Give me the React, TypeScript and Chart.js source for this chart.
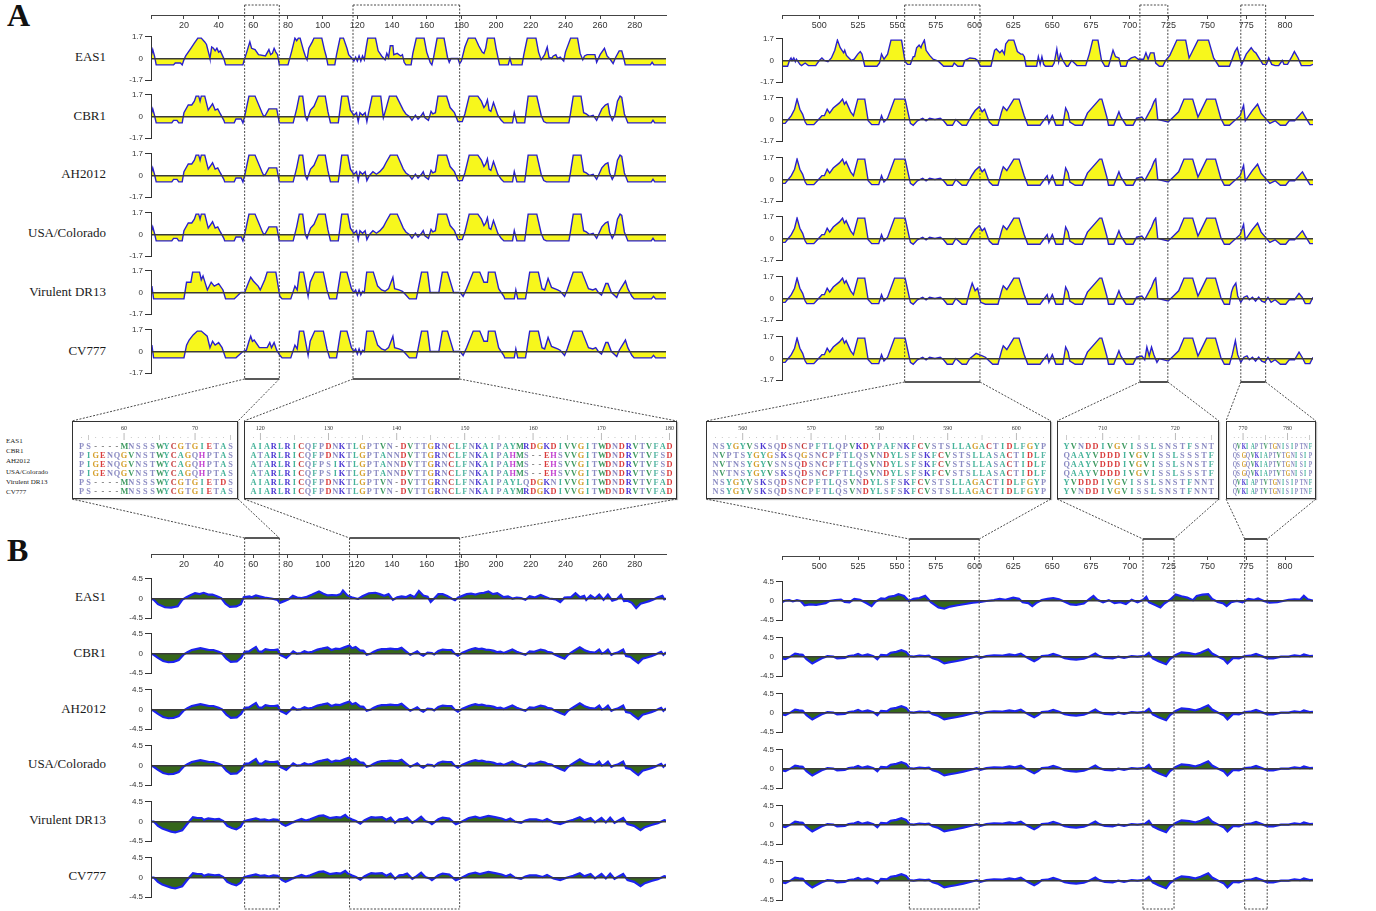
import React, { useEffect, useRef, useState } from 'react';
import { Chart, registerables } from 'chart.js';

Chart.register(...registerables);
Chart.defaults.font.family = 'Liberation Sans';

type Pt = [number, number];

// ---------------- data ----------------
const STRAINS = ['EAS1', 'CBR1', 'AH2012', 'USA/Colorado', 'Virulent DR13', 'CV777'];

const LEFT_RANGE: Pt = [1, 298];
const RIGHT_RANGE: Pt = [476, 818];
const LEFT_TICKS = [20, 40, 60, 80, 100, 120, 140, 160, 180, 200, 220, 240, 260, 280];
const RIGHT_TICKS = [500, 525, 550, 575, 600, 625, 650, 675, 700, 725, 750, 775, 800];
const ANTIGEN_LIMIT = 1.7;
const HYDRO_LIMIT = 4.5;

const LEFT_A_REGIONS: Pt[] = [[55, 75], [117.5, 179]];
const LEFT_B_REGIONS: Pt[] = [[55, 75], [115.5, 179]];
const RIGHT_A_REGIONS: Pt[] = [[555, 603.5], [706.5, 724.5], [771.5, 787.5]];
const RIGHT_B_REGIONS: Pt[] = [[558, 603], [708.5, 728.5], [774, 788.5]];

// Antigenicity, residues 1-298
const A_L_EAS1: Pt[] = [[1,0.1],[2,0.7],[3,0.2],[4,-0.5],[14,-0.5],[15,-0.35],[18,-0.35],[19,-0.5],[20,-0.1],[21,0.2],[24,0.8],[26,1.2],[28,1.6],[30,1.6],[32,1.3],[33,1.1],[34.5,0.3],[35,0],[36,0.9],[37,0.8],[38,0.6],[39,0.8],[40,0.5],[41,0.6],[43,0],[44,-0.5],[54,-0.5],[55,0],[56,0.4],[58,1.3],[59,0.8],[61,0.7],[63,0.3],[67,0.2],[69,0.7],[70,0.3],[71,0.4],[72,0.8],[73,0.5],[74,0.3],[75,-0.5],[80,-0.5],[82,0.5],[84,1.6],[85,1.4],[86,1.6],[87,1.6],[89,0.6],[90,0.2],[91,-0.1],[92,0.8],[94,1.3],[95,1.6],[99.5,1.6],[101,0.7],[102,0.2],[103,-0.5],[107,-0.5],[108,0.3],[110,1.6],[112,1.6],[114,0.8],[115,0.3],[117,0],[118,-0.2],[119,0.1],[120,-0.2],[121,0.2],[122,-0.2],[123,0.2],[124,-0.1],[125,0.8],[126,1.6],[130.5,1.6],[132,0.6],[133,0.4],[134,0.2],[136,-0.1],[137,0.4],[138,0.1],[139,1.0],[140.5,1.0],[141,0.3],[143,0.4],[145,0.2],[146,0.3],[147,-0.3],[148,-0.5],[151,-0.5],[152,0.4],[154,1.6],[158.5,1.6],[160,0.5],[162,-0.3],[163,-0.5],[164,0.1],[166,1.6],[170,1.6],[172,0.1],[173,-0.3],[174,0],[178,0],[179,-0.4],[180,-0.2],[182,0.9],[184,1.6],[188,1.6],[190,1.0],[192,0.5],[193,0.4],[194,0.8],[195,1.6],[199,1.6],[200,0.8],[202,-0.5],[207,-0.5],[208,0],[209,-0.5],[215,-0.5],[216,0.3],[218,1.6],[223,1.6],[224.5,0.5],[226,-0.1],[228,0.3],[229.5,0.9],[230.5,0.1],[232,0],[233,0.2],[234.5,0.3],[235.5,0],[237,0.1],[239,-0.2],[240,0.5],[243,1.6],[247,1.6],[248.5,0.4],[250,-0.1],[251,0.2],[252.5,0.3],[257,0.3],[258,-0.3],[260,0.3],[262.5,0.8],[264,0.2],[266,-0.1],[267.5,-0.4],[269,0.1],[271,0.6],[272.5,0.6],[273.5,0.1],[274.5,-0.5],[289,-0.5],[290,-0.3],[291,-0.5],[298,-0.5]];

const A_L_CBR1: Pt[] = [[1,0.1],[2,0.6],[3,0.1],[4,-0.5],[13,-0.5],[14,-0.3],[16,-0.3],[17,-0.5],[19,-0.5],[20,0.3],[22.5,0.9],[24.5,0.9],[26,1.2],[27,1.6],[28.5,1.6],[29.3,1.2],[30,1.6],[32,1.6],[34,0.5],[36.5,1.0],[38,0.5],[39.5,0.6],[41,0.2],[43,-0.3],[43.5,-0.5],[49,-0.5],[50,-0.2],[53,-0.2],[54,-0.5],[55,0],[57.5,1.6],[61,1.6],[65,0.3],[66,0],[67,0.1],[69,0.6],[73.5,0.6],[75,-0.5],[83,-0.5],[85,0.6],[86.5,1.6],[88.5,1.6],[90,0],[91,-0.3],[93,0.5],[95,0.8],[97.5,1.6],[101.5,1.6],[103,0.4],[104.5,-0.5],[109,-0.5],[111,1.6],[114.5,1.6],[116,0.5],[118,0.1],[119.5,0.3],[120.5,-0.4],[121.5,0.3],[123,0.1],[124.5,0.3],[125.5,-0.4],[126.5,0.3],[128.5,1.6],[133.5,1.6],[135,-0.1],[136.5,0.6],[138.5,1.6],[142.5,1.6],[146.5,0.5],[148,0.2],[150,0],[151.5,-0.3],[153.5,0.1],[155,-0.2],[157,0.1],[158,0.3],[159,-0.1],[161,-0.3],[162.5,0.4],[163.5,0.2],[165,0.3],[166.5,1.6],[171.5,1.6],[173.5,0.7],[176,0.3],[178,-0.4],[180.5,-0.4],[182,0.2],[184.5,1.6],[189.5,1.6],[191.5,1.2],[193,0.7],[194,0.9],[195,1.3],[196,0.5],[197,0.4],[198.5,1.1],[199.5,0.7],[201,0.1],[203,-0.3],[204.5,-0.5],[209.5,-0.5],[210.5,0.3],[212,-0.5],[216.5,-0.5],[218.5,1.6],[223.5,1.6],[226,0.1],[227.5,-0.4],[229,-0.5],[242,-0.5],[243,0.3],[244.5,1.6],[249,1.6],[250.5,0.3],[252,0.2],[254,0],[256,0.1],[258,-0.3],[259,0],[261,0.6],[263,0.9],[264.5,1.0],[265.5,0.2],[267,-0.3],[268.5,0.1],[270,1.2],[271.5,1.6],[272.5,1.5],[274,0.2],[276,-0.5],[289.5,-0.5],[290.5,-0.3],[291.5,-0.5],[298,-0.5]];

const A_L_AH2012: Pt[] = [[1,0.1],[2,0.6],[3,0.1],[4,-0.5],[13,-0.5],[14,-0.3],[16,-0.3],[17,-0.5],[19,-0.5],[20,0.3],[22.5,0.9],[24.5,0.9],[26,1.2],[27,1.6],[28.5,1.6],[29.3,1.2],[30,1.6],[32,1.6],[34,0.5],[36.5,1.0],[38,0.5],[39.5,0.6],[41,0.2],[43,-0.3],[43.5,-0.5],[49,-0.5],[50,-0.2],[53,-0.2],[54,-0.5],[55,0],[57.5,1.6],[61,1.6],[65,0.3],[66,0],[67,0.1],[69,0.6],[73.5,0.6],[75,-0.5],[83,-0.5],[85,0.6],[86.5,1.6],[88.5,1.6],[90,0],[91,-0.3],[93,0.5],[95,0.8],[97.5,1.6],[101.5,1.6],[103,0.4],[104.5,-0.5],[109,-0.5],[111,1.6],[114.5,1.6],[116,0.5],[118,0.1],[119.5,0.3],[120.5,-0.4],[121.5,0.3],[123,0.1],[124.5,0.3],[125.5,-0.4],[127,0],[129,0.3],[131,0.1],[133,0.3],[135,0.6],[136.5,1.0],[139,1.6],[143,1.6],[146.5,0.5],[148,0.2],[150,0],[151.5,-0.3],[153.5,0.1],[155,-0.2],[157,0.1],[158,0.3],[159,-0.1],[161,-0.3],[162.5,0.4],[163.5,0.2],[165,0.3],[166.5,1.6],[171.5,1.6],[173.5,0.7],[176,0.3],[178,-0.4],[180.5,-0.4],[182,0.2],[184.5,1.6],[189.5,1.6],[191.5,1.2],[193,0.7],[194,0.9],[195,1.3],[196,0.5],[197,0.4],[198.5,1.1],[199.5,0.7],[201,0.1],[203,-0.3],[204.5,-0.5],[209.5,-0.5],[210.5,0.3],[212,-0.5],[216.5,-0.5],[218.5,1.6],[223.5,1.6],[226,0.1],[227.5,-0.4],[229,-0.5],[242,-0.5],[243,0.3],[244.5,1.6],[249,1.6],[250.5,0.3],[252,0.2],[254,0],[256,0.1],[258,-0.3],[259,0],[261,0.6],[263,0.9],[264.5,1.0],[265.5,0.2],[267,-0.3],[268.5,0.1],[270,1.2],[271.5,1.6],[272.5,1.5],[274,0.2],[276,-0.5],[289.5,-0.5],[290.5,-0.3],[291.5,-0.5],[298,-0.5]];

const A_L_DR13: Pt[] = [[1,0.1],[1.5,0.5],[2.5,-0.5],[20,-0.5],[21.5,0.8],[24,0.8],[25,1.6],[29,1.6],[30,1.0],[31,1.3],[33.5,0.2],[35.7,0.8],[37.5,0.5],[40,0.7],[42.5,0.2],[44,-0.5],[49,-0.5],[52.8,0],[55,0],[57,0.7],[58.5,1.2],[60,0.9],[62.8,0.5],[64,0.2],[66.6,1.0],[68,1.6],[73,1.6],[75.3,-0.3],[76.6,-0.5],[81.6,-0.5],[84,0.5],[85.3,0.2],[86.6,1.6],[89,1.6],[91.6,-0.3],[92.8,0.8],[95.4,1.6],[100.4,1.6],[102.5,0.2],[104,-0.5],[108,-0.5],[110.4,1.6],[114,1.6],[116.6,0.3],[118,0],[119,0.2],[120,-0.2],[121,0.2],[122,-0.2],[123,0.1],[124,0],[125.4,1.6],[129.2,1.6],[131.7,0.5],[134,0.2],[136,0.1],[138,0.3],[140.5,1.2],[141.5,0.3],[144,0.2],[146,0.1],[148,-0.2],[150,-0.5],[154,-0.5],[157,1.6],[160.5,1.6],[162,0],[167,0],[169,1.6],[172,1.6],[175.5,0],[179.3,0],[181,-0.3],[183,0.3],[186.8,1.6],[190.6,1.6],[193,0.8],[195,0.8],[195.6,1.6],[199.4,1.6],[201.5,0.3],[204.4,-0.3],[205,-0.5],[210.5,-0.5],[211.4,0.2],[212.5,-0.5],[217,-0.5],[219.4,1.6],[224.4,1.6],[226.5,0.3],[228,0.2],[230,1.1],[232,0.4],[235.5,0.2],[237,0.1],[239.5,-0.3],[241,0.2],[244.5,1.6],[249.5,1.6],[253.3,0.3],[255.8,0.2],[257.5,0.3],[259,0],[260.8,-0.2],[263.3,0.7],[264.5,0.7],[266.5,0],[269.6,-0.4],[271,0.1],[274.6,0.9],[276,0.3],[278.3,-0.3],[279.6,-0.5],[289.6,-0.5],[290.8,-0.3],[292,-0.5],[298,-0.5]];

const A_L_CV777: Pt[] = [[1,0.1],[1.5,0.5],[2.5,-0.5],[20,-0.5],[21.5,0.5],[23,0.9],[25.3,1.3],[27.7,1.6],[30,1.6],[33.4,1.2],[35,0.3],[36.5,0.8],[38,0.5],[40,0.7],[42,0.3],[44,-0.5],[50,-0.5],[54,0],[56,0.1],[57.5,0.8],[58.5,1.2],[59.5,0.8],[60.5,0.9],[63.5,0.3],[68,0.3],[69.5,0.7],[70.5,0.3],[72,0.7],[73.5,0.1],[75.3,-0.3],[76.6,-0.5],[81.6,-0.5],[84,0.5],[85.3,0.2],[86.6,1.6],[89,1.6],[91.6,-0.3],[92.8,0.8],[95.4,1.6],[100.4,1.6],[102.5,0.2],[104,-0.5],[108,-0.5],[110.4,1.6],[114,1.6],[116.6,0.3],[118,0],[119,0.2],[120,-0.2],[121,0.2],[122,-0.2],[123,0.1],[124,0],[125.4,1.6],[129.2,1.6],[131.7,0.5],[134,0.2],[136,0.1],[138,0.3],[140.5,1.2],[141.5,0.3],[144,0.2],[146,0.1],[148,-0.2],[150,-0.5],[154,-0.5],[157,1.6],[160.5,1.6],[162,0],[167,0],[169,1.6],[172,1.6],[175.5,0],[179.3,0],[181,-0.3],[183,0.3],[186.8,1.6],[190.6,1.6],[193,0.8],[195,0.8],[195.6,1.6],[199.4,1.6],[201.5,0.3],[204.4,-0.3],[205,-0.5],[210.5,-0.5],[211.4,0.2],[212.5,-0.5],[217,-0.5],[219.4,1.6],[224.4,1.6],[226.5,0.3],[228,0.2],[230,1.1],[232,0.4],[235.5,0.2],[237,0.1],[239.5,-0.3],[241,0.2],[244.5,1.6],[249.5,1.6],[253.3,0.3],[255.8,0.2],[257.5,0.3],[259,0],[260.8,-0.2],[263.3,0.7],[264.5,0.7],[266.5,0],[269.6,-0.4],[271,0.1],[274.6,0.9],[276,0.3],[278.3,-0.3],[279.6,-0.5],[289.6,-0.5],[290.8,-0.3],[292,-0.5],[298,-0.5]];

// Antigenicity, residues 476-818
const A_R_EAS1: Pt[] = [[476,-0.45],[479.6,-0.45],[480.8,0],[481.8,0.2],[482.5,0],[483.6,0.2],[484.6,-0.1],[485.3,0.1],[487.5,-0.3],[488.6,-0.4],[490.9,-0.2],[493,-0.4],[497.7,-0.4],[500,0],[501.7,0.2],[503.3,0],[505.6,-0.1],[507.8,0.2],[510,0.8],[511.7,1.6],[513.5,1.0],[515.7,0.6],[516.4,0.8],[517.5,0.4],[519.1,0.2],[520.7,0],[522.5,0.1],[524.8,0.5],[526.4,0.7],[527.5,0.5],[529.3,-0.45],[537.2,-0.45],[538.8,-0.2],[540.1,0.5],[541.7,0.1],[544,0.5],[546.2,1.6],[553,1.6],[555.3,-0.1],[556.8,-0.3],[558.7,-0.3],[560.5,0.3],[561.4,0.3],[562.7,1.0],[564.3,1.2],[565.5,1.0],[566,1.2],[567.7,1.6],[568.8,0.8],[571.1,0.4],[573.3,0.1],[576.7,-0.05],[580.1,-0.45],[585.8,-0.45],[586.9,-0.2],[589.2,-0.45],[592.5,-0.45],[593.7,0],[597,0.2],[600.4,0.15],[602,0],[603.8,-0.45],[610.6,-0.45],[612.9,0.8],[614,0.9],[616.3,0.6],[617.8,0.8],[619.2,0.5],[620.1,1.3],[621.9,1.6],[625.3,1.6],[627.6,0.7],[629.8,0.5],[631,0.5],[632.1,0.3],[633.2,-0.45],[640,-0.45],[641.1,0.3],[642.3,-0.3],[643.4,0.3],[644.5,-0.3],[645.6,-0.45],[650.1,-0.45],[651.3,-0.2],[653,0.9],[654.2,-0.1],[655.3,0.5],[656.9,0],[659.2,-0.45],[660.3,-0.45],[662.6,0],[666,-0.4],[671.6,-0.4],[673.9,0.5],[676.1,1.6],[679.5,1.6],[681.8,0],[684,-0.45],[686.3,-0.45],[689.2,0.8],[690.8,0.3],[693,0.2],[694.2,-0.45],[697.6,-0.45],[698.8,0],[701,0.2],[703.3,0.3],[705.5,0.1],[708.9,0.1],[710.4,0.6],[711.8,0.1],[713.3,0.6],[715.6,0.6],[716.7,-0.2],[719,-0.45],[721.3,-0.45],[723.1,0],[725.8,0.4],[730.3,1.6],[736,1.6],[738.2,0.2],[743.9,1.6],[750.7,1.6],[754,0.2],[757.4,-0.45],[764.2,-0.45],[766.5,0.3],[767.7,0.7],[769.2,1.0],[772.1,-0.3],[775,0.5],[778.2,1.0],[780,0.7],[781.2,0.6],[785.7,-0.3],[788,-0.3],[789.5,0.2],[791.4,-0.3],[793.6,-0.4],[795.9,-0.4],[798.2,0],[799.3,-0.3],[801.6,-0.3],[803.9,0.2],[806,0.7],[808.4,0.2],[810.5,-0.4],[816.2,-0.4],[818,-0.3]];

const A_R_CBR1: Pt[] = [[476,-0.3],[478,-0.3],[480,0],[482,0.3],[484.1,0.8],[485.7,1.6],[487.5,0.8],[489.3,0.4],[490.9,-0.2],[492,-0.4],[496.5,-0.4],[498.8,-0.1],[501.7,0.3],[503.3,0.3],[505.1,0.8],[506.7,0.5],[509,0.9],[513,1.3],[515,1.6],[516.2,1.2],[517.3,1.4],[520.2,0.6],[522,0.3],[524.8,1.6],[529.3,1.6],[531.5,-0.1],[533.8,-0.4],[538.3,-0.4],[540.1,0.3],[541.7,-0.2],[544,0.1],[548.5,1.6],[555.3,1.6],[558.7,-0.3],[560.5,-0.45],[563.2,-0.1],[566.6,0.1],[568.8,-0.1],[571.1,0.1],[574.5,0],[577.9,0.1],[580.1,-0.1],[582.4,-0.45],[585.8,-0.45],[588,0],[592,-0.45],[594.8,-0.45],[598.2,0.3],[600.4,0.7],[603.1,1.0],[604.9,0.6],[606.5,0.8],[609.5,-0.2],[611.7,-0.45],[615.1,-0.45],[617.4,0.6],[618.5,1.0],[620.8,0.7],[625.3,1.6],[628.7,1.6],[632,0.3],[634.3,-0.45],[642.2,-0.45],[646.8,0.3],[647.9,-0.3],[650.1,0.3],[652.4,-0.45],[656.9,-0.45],[658.7,0.9],[660.3,0.5],[661.4,-0.2],[664.8,-0.45],[669.4,-0.45],[672.7,0.5],[680.6,1.6],[682,1.6],[685.2,0.2],[686.3,-0.45],[689.7,-0.45],[693,0.6],[694.2,0.2],[697.6,-0.45],[702.1,-0.45],[704.4,0.1],[707.8,0.2],[709.6,-0.1],[711.8,0.4],[714,0.9],[715.6,1.4],[716.7,1.6],[718,0],[724.7,-0.2],[728.1,0.2],[731.5,0.6],[734.9,1.6],[740.5,1.6],[743.9,0.2],[749.5,1.6],[755.2,1.6],[758.6,0.1],[760.9,-0.45],[764.2,-0.45],[766.5,-0.2],[771,0.3],[773.3,1.1],[774.4,-0.1],[778.9,0.7],[782.3,1.2],[784.6,0.5],[790.2,-0.3],[793.6,-0.1],[797,-0.45],[800.4,-0.45],[802.7,-0.1],[806.1,-0.1],[811.2,0.6],[813,0.2],[816,-0.4],[818,-0.4]];

const A_R_DR13: Pt[] = [[476,-0.3],[478,-0.3],[480,0],[482,0.3],[484.1,0.8],[485.7,1.6],[487.5,0.8],[489.3,0.4],[490.9,-0.2],[492,-0.4],[496.5,-0.4],[498.8,-0.1],[501.7,0.3],[503.3,0.3],[505.1,0.8],[506.7,0.5],[509,0.9],[513,1.3],[515,1.6],[516.2,1.2],[517.3,1.4],[520.2,0.6],[522,0.3],[524.8,1.6],[529.3,1.6],[531.5,-0.1],[533.8,-0.4],[538.3,-0.4],[540.1,0.3],[541.7,-0.2],[544,0.1],[548.5,1.6],[555.3,1.6],[558.7,-0.3],[560.5,-0.45],[563.2,-0.1],[566.6,0.1],[568.8,-0.1],[571.1,0.1],[574.5,0],[577.9,0.1],[580.1,-0.1],[582.4,-0.45],[585.8,-0.45],[588,0],[592,-0.45],[594.8,-0.45],[596.5,0.4],[598.5,1.2],[600.4,0.6],[602,0.8],[604,-0.3],[607,-0.45],[611.7,-0.45],[615.1,-0.45],[617.4,0.6],[618.5,1.0],[620.8,0.7],[625.3,1.6],[628.7,1.6],[632,0.3],[634.3,-0.45],[642.2,-0.45],[646.8,0.3],[647.9,-0.3],[650.1,0.3],[652.4,-0.45],[656.9,-0.45],[658.7,0.9],[660.3,0.5],[661.4,-0.2],[664.8,-0.45],[669.4,-0.45],[672.7,0.5],[680.6,1.6],[682,1.6],[685.2,0.2],[686.3,-0.45],[689.7,-0.45],[693,0.6],[694.2,0.2],[697.6,-0.45],[702.1,-0.45],[704.4,0.1],[707.8,0.2],[709.6,-0.1],[711.8,0.4],[714,0.9],[715.6,1.4],[716.7,1.6],[718,0],[724.7,-0.2],[728.1,0.2],[731.5,0.6],[734.9,1.6],[740.5,1.6],[743.9,0.2],[749.5,1.6],[755.2,1.6],[758.6,0.1],[760.9,-0.45],[764.2,-0.45],[765.5,0.5],[766.6,0.9],[768.3,1.2],[769.5,0.2],[771.5,-0.3],[773.5,0.1],[775.5,0.2],[777,-0.1],[779,0.1],[781,-0.2],[783,0.1],[785,-0.2],[787,-0.3],[789,0.1],[791,-0.3],[793.6,-0.1],[797,-0.45],[800.4,-0.45],[802.7,-0.1],[806.1,-0.1],[809,0.4],[811,0.1],[813,-0.4],[816,-0.4],[818,0.1]];

const A_R_CV777: Pt[] = [[476,-0.3],[478,-0.3],[480,0],[482,0.3],[484.1,0.8],[485.7,1.6],[487.5,0.8],[489.3,0.4],[490.9,-0.2],[492,-0.4],[496.5,-0.4],[498.8,-0.1],[501.7,0.3],[503.3,0.3],[505.1,0.8],[506.7,0.5],[509,0.9],[513,1.3],[515,1.6],[516.2,1.2],[517.3,1.4],[520.2,0.6],[522,0.3],[524.8,1.6],[529.3,1.6],[531.5,-0.1],[533.8,-0.4],[538.3,-0.4],[540.1,0.3],[541.7,-0.2],[544,0.1],[548.5,1.6],[555.3,1.6],[558.7,-0.3],[560.5,-0.45],[563.2,-0.1],[566.6,0.1],[568.8,-0.1],[571.1,0.1],[574.5,0],[577.9,0.1],[580.1,-0.1],[582.4,-0.45],[585.8,-0.45],[588,0],[592,-0.45],[594.8,-0.45],[597,0],[599,0.2],[601,0.4],[603,0.3],[605,0.2],[607,0.1],[609.5,-0.2],[611.7,-0.45],[615.1,-0.45],[617.4,0.6],[618.5,1.0],[620.8,0.7],[625.3,1.6],[628.7,1.6],[632,0.3],[634.3,-0.45],[642.2,-0.45],[646.8,0.3],[647.9,-0.3],[650.1,0.3],[652.4,-0.45],[656.9,-0.45],[658.7,0.9],[660.3,0.5],[661.4,-0.2],[664.8,-0.45],[669.4,-0.45],[672.7,0.5],[680.6,1.6],[682,1.6],[685.2,0.2],[686.3,-0.45],[689.7,-0.45],[693,0.6],[694.2,0.2],[697.6,-0.45],[702.1,-0.45],[704.4,0.1],[707.8,0.2],[709.6,-0.1],[711,0.9],[712.5,0.2],[714,0.9],[715.5,0.3],[717.5,-0.3],[719,0],[724.7,-0.2],[728.1,0.2],[731.5,0.6],[734.9,1.6],[740.5,1.6],[743.9,0.2],[749.5,1.6],[755.2,1.6],[758.6,0.1],[760.9,-0.45],[764.2,-0.45],[766,0.3],[768,1.4],[769.5,0.3],[771.5,-0.3],[773.5,0.1],[775.5,0.2],[777,-0.1],[779,0.1],[781,-0.2],[783,0.1],[785,-0.2],[787,-0.3],[789,0.1],[791,-0.3],[793.6,-0.1],[797,-0.45],[800.4,-0.45],[802.7,-0.1],[806.1,-0.1],[809,0.5],[811,0.1],[813,-0.4],[816,-0.4],[818,0.1]];

// Hydrophobicity, residues 1-298
const B_L_EAS1: Pt[] = [[1,0],[2.6,-0.3],[5,-1.3],[9,-2.0],[12.6,-2.1],[16.4,-1.8],[19,-0.3],[21.4,0.3],[24,0.8],[26.4,1.2],[29,1.0],[31.4,1.3],[34,0.9],[36.4,0.9],[39,0.5],[41.5,0.1],[44,-1.2],[46.5,-1.9],[50.2,-1.8],[52.8,-1.3],[54.5,0.3],[57.8,0.5],[59,0.3],[61.5,0.7],[63.5,0.5],[66.5,0.2],[70.3,0],[74,-0.3],[75.3,-1.0],[77.8,-0.6],[80.3,-0.2],[82.8,0.6],[85.3,0.2],[87.8,0.1],[90.3,0.3],[94,0.9],[97.9,1.6],[100.4,1.1],[102.9,0.7],[105.4,0.8],[107.9,0.7],[110.4,1.0],[111.7,1.8],[114.2,0.7],[116.7,0.3],[120.4,-0.1],[122.9,0.5],[126.7,1.2],[130.4,1.3],[132.9,1.0],[135.5,0.6],[138,1.0],[140.5,-0.3],[143,0.3],[145.5,0.5],[148,0.3],[150.5,0.8],[153,0.3],[155.5,1.7],[158,0.7],[160.5,0.4],[162.3,-0.8],[164.3,0],[166.7,1.0],[169.2,1.0],[171.8,0.6],[174.3,0],[176.3,-0.4],[178,0.2],[180.6,0.6],[183.1,1.0],[185.6,1.1],[188.1,0.9],[190.6,1.2],[193,1.3],[195.6,1.6],[198.2,1.0],[200.7,1.2],[204.4,0.3],[206.9,0.5],[209.4,0],[211.9,0.2],[214.4,0.1],[216.9,-0.3],[219.4,0.5],[222.4,0.2],[225.7,0.8],[228.2,0.4],[230.7,0],[234.4,-0.2],[237,-0.8],[239.5,0.2],[243.3,0.3],[245.8,1.2],[248.3,0.3],[250.8,0.6],[252,-0.3],[254.5,0.7],[257,0],[259.5,0.9],[262,-0.3],[264.5,0.9],[267,-0.5],[269.6,-0.2],[272,0.8],[273.8,-0.6],[275.8,-0.5],[278.3,-1.0],[280.8,-2.2],[283.3,-1.2],[285.8,-0.9],[288.3,-0.6],[290.8,-0.2],[293.3,0.3],[295.9,0.6],[297,-0.2],[298,0]];

const B_L_CBR1: Pt[] = [[1,0],[2.6,-0.3],[5,-1.0],[8,-1.7],[11,-2.0],[14,-1.9],[17,-1.5],[20,-0.2],[22,0.3],[24.5,0.8],[27,1.0],[29.5,1.2],[32,1.0],[34.5,0.8],[37,0.8],[40,0.4],[42,0],[44.5,-1.2],[47,-1.9],[50.5,-1.8],[53,-1.0],[55,0.4],[57.5,0.5],[59.5,1.0],[61.5,1.5],[63,0.5],[65,0.4],[67,1.0],[69.5,0.8],[72,0.8],[74,0.9],[75.5,-0.3],[77.5,-0.7],[79,-1.0],[81,-0.3],[83,0.5],[85,0],[87.5,0.1],[89.5,0.5],[91.5,0.2],[94,0.4],[97,0.9],[99.5,1.1],[102.8,1.4],[105,0.8],[107.5,1.1],[110,1.0],[112.5,1.4],[115.4,1.8],[117,1.2],[119,1.5],[121.5,0.7],[123.5,0.6],[125.4,-0.3],[127.8,0],[129.5,0.4],[131.7,0.8],[134,1.0],[136.7,1.0],[139,1.1],[141.5,1.0],[143.5,1.0],[145.5,1.3],[148,0.5],[150.5,-0.3],[153,0.2],[154.5,0.5],[156.5,-0.2],[158,-0.5],[160.5,0.2],[163,0.1],[164.3,-0.2],[166.7,0.6],[169.2,0.9],[171.8,0.8],[174.3,0.8],[176,0],[178,-0.5],[180.6,0.2],[184.3,0.8],[186,1.0],[188,1.2],[190,1.0],[191.8,1.1],[194,0.9],[196.8,0.8],[198.8,0.6],[200.7,0.3],[202.5,0.4],[204.4,0.1],[206.9,0.5],[209.4,0.9],[211.9,0.4],[213.2,0.2],[216.9,-0.3],[219.4,0.5],[222,0.4],[225.7,0.9],[228.2,0.7],[229.5,0.4],[232,0.2],[233.5,-0.2],[237,-0.8],[239.5,-1.2],[241.5,-0.3],[243.3,0.2],[245.8,0.8],[248.3,1.4],[250.8,0.8],[252,0.6],[254.5,0.3],[257,0.2],[259.5,0.9],[261,0],[262.5,0.2],[264.5,0.9],[266.5,-0.3],[268,0],[270,0.2],[273.3,0.9],[275,-0.6],[277.5,-0.8],[279,-1.3],[282,-2.2],[284.5,-1.2],[287,-0.9],[289.5,-0.6],[292,-0.2],[294,0.2],[295.2,0.4],[296.5,-0.3],[298,0.3]];

const B_L_DR13: Pt[] = [[1,0],[2.6,0],[5,-1.0],[7.5,-1.6],[12.6,-2.3],[15,-2.5],[19,-2.0],[21.4,-0.8],[23,0],[25.2,1.0],[27.7,0.8],[30.2,0.8],[31.5,0.4],[34,0.7],[37.8,0.5],[40.2,0.6],[42.7,0.1],[45,-1.0],[47.6,-1.5],[50.2,-1.8],[52.7,-1.2],[54.5,0],[56.5,0.3],[59,0.5],[61.5,0.7],[64,0.4],[66.5,0.5],[69,0.2],[71.5,0.5],[74,0.4],[76.6,-0.6],[78.6,-1.0],[80.3,-0.7],[82.8,-0.2],[85.3,0.2],[87.8,0.6],[90.3,0.2],[92.8,0.5],[97.9,1.3],[100.4,1.4],[104.1,0.8],[107.9,1.0],[110.4,0.9],[113,1.5],[114.2,1.0],[116.7,0.5],[119.2,0.1],[121.7,-0.5],[124.2,0.3],[126.2,0.7],[128,1.0],[130.4,0.9],[134.2,1.0],[136.7,0.4],[139.2,0.9],[141.7,-0.3],[144.2,0.5],[146.7,0.6],[148.7,0.9],[151.7,-0.3],[154.2,0.3],[156.8,1.1],[159.2,0.1],[161.7,-0.2],[163,-0.6],[166.7,0.5],[169.2,0.9],[173,0.7],[175.5,-0.2],[176.8,-0.6],[179.3,-0.2],[181.8,0.3],[184.3,0.8],[188,1.1],[190.6,0.8],[195.6,1.3],[199.4,1.0],[203.2,0.7],[205.7,0.3],[208.2,0.7],[210.7,0],[214.4,-0.3],[216.9,0.2],[219.4,0.5],[223.1,0.5],[226.9,0.1],[229.4,0.6],[233.1,-0.2],[237,-0.6],[239.5,-0.2],[244.5,0.4],[248.3,1.0],[250.8,0.3],[254.5,0.8],[257,-0.2],[260.8,0.8],[263.3,-0.2],[265.8,0.9],[268.3,-0.3],[273.3,0.8],[275.8,-0.6],[279.6,-1.0],[283.3,-2.0],[285.8,-1.3],[289.6,-0.8],[293.3,-0.4],[297,0.3],[298,0.2]];

// Hydrophobicity, residues 476-818
const B_R_EAS1: Pt[] = [[476,-0.3],[478,0.1],[480.7,0.2],[483,-0.1],[485.6,0.2],[488,0],[490.5,-1.0],[494,-0.8],[498,-0.9],[501.5,-0.7],[504.1,-0.5],[506.5,0],[510.3,0.2],[514,0.3],[516.4,-0.2],[519.4,-0.3],[522.6,0.5],[526.3,0.3],[530,-0.4],[533.7,-1.2],[536.1,-0.2],[539.8,0.6],[542.3,0.5],[544.8,1.0],[548.5,1.2],[551,1.6],[554.6,1.2],[557.8,0],[560.8,0.5],[564.5,0.7],[568.2,1.2],[570.1,0.5],[571.9,-0.3],[576.8,-1.5],[580.5,-1.8],[584.2,-1.3],[589.1,-1.0],[594.1,-0.7],[599,-0.4],[603.9,-0.2],[607.6,0],[612.5,0.2],[616.2,0.5],[619.9,0.3],[624.9,0.8],[628.6,0.5],[631,-0.3],[634.7,-0.5],[637.2,-1.2],[639.6,-0.5],[643.3,0.2],[647,0.5],[650.7,0.7],[654.4,0.4],[658.1,-0.2],[661.8,-0.8],[665.5,-0.9],[670.4,-0.6],[674.1,0.5],[676.6,1.2],[679.1,0.3],[682.8,-0.3],[686.5,0.2],[690.2,-0.5],[693.9,-0.3],[697.5,-0.7],[701.2,0.3],[705,-0.3],[708.6,0.3],[710.6,1.0],[712.3,-0.3],[716,-0.9],[719.7,-1.5],[722.2,-0.6],[725.9,0.3],[729.6,1.5],[733.3,1.1],[737,0.8],[740.7,0.2],[743.1,1.2],[746.8,1.5],[750.5,1.6],[753,0.5],[756.7,-0.2],[760.4,-0.6],[762.4,-1.2],[765.3,-0.3],[769,0],[772.6,-0.3],[776.4,0.5],[780.1,0.3],[782.6,0.6],[786.3,0],[790,-0.4],[795,-0.3],[798.6,0],[802.3,0.3],[806,0.4],[809.7,0.3],[812.1,1.2],[814.6,0.4],[818,0.1]];

const B_R_CBR1: Pt[] = [[476,-0.3],[478.2,-0.5],[481.9,0.2],[484.4,0.8],[486.9,0.6],[489.3,0.5],[491.8,-0.5],[494.3,-1.2],[495.5,-1.5],[498,-1.0],[501.6,-0.3],[505.3,0.2],[509,0.1],[511.5,-0.3],[516.4,-0.2],[518.9,0.2],[522.6,0.4],[525,0.7],[527.5,0.3],[531.2,0.6],[534.9,0.2],[537.4,-0.5],[539.8,0.5],[543.5,0.4],[546,1.0],[549.7,1.2],[552.9,1.6],[555.9,1.2],[558.3,0.2],[560.8,0.1],[564.5,0.3],[568.2,0.2],[570.6,0.3],[573.1,-0.3],[576.8,-0.7],[580.5,-1.5],[584.2,-1.2],[587.9,-1.0],[592.8,-0.6],[596.5,-0.3],[601.4,0.2],[603.9,-0.2],[607.6,0.2],[612.5,0.4],[617.5,0.3],[622.4,0.6],[626.1,0.4],[629.8,0.8],[632.3,0.2],[634.7,-0.3],[638.4,-1.0],[640.9,-0.5],[643.3,0.2],[647,0.3],[650.7,0.7],[654.4,0.3],[658.1,-0.3],[661.8,-0.5],[665.5,-0.6],[670.4,-0.4],[674.1,0.1],[677.8,0.8],[680.3,0.2],[684,-0.2],[689,-0.3],[692.6,0.1],[696.3,-0.2],[701.2,0.2],[704.9,0.1],[709.9,0.3],[712.3,1.0],[714.8,-0.3],[718.5,-1.0],[723.4,-1.7],[725.9,-0.5],[729.6,0.5],[733.3,1.1],[738.2,0.9],[741.9,0.6],[745.6,1.0],[750.5,1.8],[753,0.8],[756.7,0.1],[760.4,-0.5],[762.9,-1.5],[766.6,-0.2],[770.3,-0.3],[774,0.2],[777.7,0.3],[781.3,0.7],[785,0.2],[788.7,-0.3],[792.4,-0.3],[797.4,0.1],[802.3,0.1],[806,0.4],[809.7,0.2],[812.1,0.6],[815.8,0.2],[818,0.3]];

const A_LEFT_ROWS = [A_L_EAS1, A_L_CBR1, A_L_AH2012, A_L_AH2012, A_L_DR13, A_L_CV777];
const A_RIGHT_ROWS = [A_R_EAS1, A_R_CBR1, A_R_CBR1, A_R_CBR1, A_R_DR13, A_R_CV777];
const B_LEFT_ROWS = [B_L_EAS1, B_L_CBR1, B_L_CBR1, B_L_CBR1, B_L_DR13, B_L_DR13];
const B_RIGHT_ROWS = [B_R_EAS1, B_R_CBR1, B_R_CBR1, B_R_CBR1, B_R_CBR1, B_R_CBR1];

// alignment blocks (first column number + sequences per strain)
const ALN_STARTS = [54, 119, 556, 705, 768];
const ALN_54 = ['PS----MNSSSWYCGTGIETAS','PIGENQGVNSTWYCAGQHPTAS','PIGENQGVNSTWYCAGQHPTAS','PIGENQGVNSTWYCAGQHPTAS','PS----MNSSSWYCGTGIETDS','PS----MNSSSWYCGTGIETAS'];
const ALN_119 = ['AIARLRICQFPDNKTLGPTVN-DVTTGRNCLFNKAIPAYMRDGKDIVVGITWDNDRVTVFAD','ATARLRICQFPDNKTLGPTANNDVTTGRNCLFNKAIPAHMS--EHSVVGITWDNDRVTVFSD','ATARLRICQFPSIKTLGPTANNDVTTGRNCLFNKAIPAHMS--EHSVVGITWDNDRVTVFSD','ATARLRICQFPSIKTLGPTANNDVTTGRNCLFNKAIPAHMS--EHSVVGITWDNDRVTVFSD','AIARLRICQFPDNKTLGPTVN-DVTTGRNCLFNKAIPAYLQDGKNIVVGITWDNDRVTVFAD','AIARLRICQFPDNKTLGPTVN-DVTTGRNCLFNKAIPAYMRDGKDIVVGITWDNDRVTVFAD'];
const ALN_556 = ['NSYGYVSKSQDSNCPFTLQPVKDYPAFNKFCVSTSLLAGACTIDLFGYP','NVPTSYGYGSKSQGSNCPFTLQSVNDYLSFSKFCVSTSLLASACTIDLF','NVTNSYGYVSNSQDSNCPFTLQSVNDYLSFSKFCVSTSLLASACTIDLF','NVTNSYGYVSKSQDSNCPFTLQSVNDYLSFSKFCVSTSLLASACTIDLF','NSYGYVSKSQDSNCPFTLQSVNDYLSFSKFCVSTSLLAGACTIDLFGYP','NSYGYVSKSQDSNCPFTLQSVNDYLSFSKFCVSTSLLAGACTIDLFGYP'];
const ALN_705 = ['YVNDDIVGVISSLSNSTFSNT','QAAYVDDDIVGVISSLSSSTF','QAAYVDDDIVGVISSLSNSTF','QAAYVDDDIVGVISSLSSSTF','YVDDDIVGVISSLSNSTFNNT','YVNDDIVGVISSLSNSTFNNT'];
const ALN_768 = ['QVKIAPTVTGNISIPTNF','QSGQVKIAPTVTGNISIP','QSGQVKIAPTVTGNISIP','QSGQVKIAPTVTGNISIP','QVKIAPTVTGNISIPTNF','QVKIAPTVTGNISIPTNF'];
const ALN_BLOCKS = [ALN_54, ALN_119, ALN_556, ALN_705, ALN_768];

// ---------------- styles / layout ----------------
const AA_COLORS: Record<string, string> = {
  A: '#45b39a', I: '#45b39a', L: '#45b39a', F: '#52b4a2', Y: '#45b39a', W: '#3f9a62', V: '#3f9a62', M: '#3f9a62',
  C: '#c43a3a', R: '#4b36d3', K: '#4b36d3', H: '#c23fd0', D: '#d93b3b', E: '#d93b3b', G: '#d6a12e',
  P: '#8a8ac2', N: '#8a8ac2', Q: '#8a8ac2', S: '#8a8ac2', T: '#8a8ac2', '-': '#666666',
};

const YW = 42;
const PAD = 6;

interface Panel {
  id: string; kind: 'A' | 'B'; rows: Pt[][]; range: Pt; ticks: number[]; limit: number;
  plotLeft: number; plotRight: number; axisY: number; zero0: number; step: number; half: number;
}

const PANELS: Panel[] = [
  { id: 'AL', kind: 'A', rows: A_LEFT_ROWS, range: LEFT_RANGE, ticks: LEFT_TICKS, limit: ANTIGEN_LIMIT, plotLeft: 151, plotRight: 666, axisY: 15, zero0: 58, step: 58.7, half: 22.5 },
  { id: 'AR', kind: 'A', rows: A_RIGHT_ROWS, range: RIGHT_RANGE, ticks: RIGHT_TICKS, limit: ANTIGEN_LIMIT, plotLeft: 782, plotRight: 1313, axisY: 15, zero0: 60, step: 59.6, half: 22.5 },
  { id: 'BL', kind: 'B', rows: B_LEFT_ROWS, range: LEFT_RANGE, ticks: LEFT_TICKS, limit: HYDRO_LIMIT, plotLeft: 151, plotRight: 666, axisY: 554, zero0: 598, step: 55.8, half: 20.5 },
  { id: 'BR', kind: 'B', rows: B_RIGHT_ROWS, range: RIGHT_RANGE, ticks: RIGHT_TICKS, limit: HYDRO_LIMIT, plotLeft: 782, plotRight: 1313, axisY: 556, zero0: 601, step: 56, half: 20 },
];

const BOXES = [
  { left: 72, right: 238 }, { left: 244, right: 677 }, { left: 706, right: 1051 },
  { left: 1057, right: 1219 }, { left: 1226, right: 1316 },
];
const BOX_TOP = 421;
const BOX_BOTTOM = 499;
const AX_PAD = 20;

function rowConfig(p: Panel, pts: Pt[]): any {
  const isA = p.kind === 'A';
  const lim = p.limit;
  return {
    type: 'line',
    data: {
      datasets: [{
        data: pts.map(([x, y]) => ({ x, y })),
        borderColor: isA ? '#2a20cc' : '#1c22ee',
        backgroundColor: isA ? '#f7f71c' : '#35661b',
        fill: 'origin',
        borderWidth: isA ? 1.4 : 2.2,
        pointRadius: 0,
        tension: 0,
      }],
    },
    options: {
      animation: false,
      responsive: false,
      events: [],
      layout: { padding: { top: PAD, bottom: PAD, left: 0, right: 0 } },
      plugins: { legend: { display: false }, tooltip: { enabled: false } },
      scales: {
        x: { type: 'linear', min: p.range[0], max: p.range[1], display: false },
        y: {
          type: 'linear', min: -lim, max: lim,
          afterBuildTicks: (s: any) => { s.ticks = [-lim, 0, lim].map((v) => ({ value: v })); },
          afterFit: (s: any) => { s.width = YW; },
          border: { display: true, color: '#333', width: 1, z: 2 },
          grid: {
            z: 1,
            drawOnChartArea: true,
            drawTicks: true,
            tickLength: 6,
            color: (c: any) => (c.tick && c.tick.value === 0 ? '#3a3a3a' : 'rgba(0,0,0,0)'),
            lineWidth: (c: any) => (c.tick && c.tick.value === 0 ? 1.6 : 1),
            tickColor: (c: any) => (c.tick && c.tick.value !== 0 ? '#333' : 'rgba(0,0,0,0)'),
          },
          ticks: {
            font: { family: 'Liberation Sans', size: 8 }, color: '#333', padding: 2,
            callback: (v: any) => String(v),
          },
        },
      },
    },
  };
}

function axisConfig(p: Panel): any {
  const min = p.range[0];
  return {
    type: 'line',
    data: { datasets: [] },
    options: {
      animation: false,
      responsive: false,
      events: [],
      layout: { padding: { left: AX_PAD, right: AX_PAD, top: 0, bottom: 0 } },
      plugins: { legend: { display: false }, tooltip: { enabled: false } },
      scales: {
        x: {
          type: 'linear', min, max: p.range[1], position: 'bottom',
          afterBuildTicks: (s: any) => { s.ticks = [min, ...p.ticks].map((v) => ({ value: v })); },
          afterFit: (s: any) => { s.height = 16; },
          border: { display: true, color: '#444', width: 1 },
          grid: { drawOnChartArea: false, drawTicks: true, tickLength: 4, color: '#444' },
          ticks: {
            autoSkip: false, maxRotation: 0, minRotation: 0, padding: 1,
            font: { family: 'Liberation Sans', size: 9 }, color: '#333',
            callback: (v: any) => (v === min ? '' : String(v)),
          },
        },
        y: { display: false },
      },
    },
  };
}

function AlignBox({ idx }: { idx: number }) {
  const box = BOXES[idx];
  const seqs = ALN_BLOCKS[idx];
  const start = ALN_STARTS[idx];
  const w = box.right - box.left;
  const n = Math.max(...seqs.map((s) => s.length));
  const cw = (w - 10) / n;
  const squeeze = Math.min(1, cw / 6.6);
  const colLeft = (i: number) => 5 + i * cw;
  const nodes: any[] = [];
  for (let i = 0; i < n; i++) {
    const num = start + i;
    if (num % 10 === 0) {
      nodes.push(<span key={'n' + i} style={{ position: 'absolute', left: colLeft(i) - 10 + cw / 2, width: 20, top: 3, textAlign: 'center', fontSize: 6, lineHeight: '7px', color: '#333', fontFamily: 'Liberation Serif' }}>{num}</span>);
    }
    const tall = num % 10 === 0;
    const mid = num % 5 === 0;
    nodes.push(<span key={'t' + i} style={{ position: 'absolute', left: colLeft(i), width: cw, top: tall ? 10 : mid ? 11 : 10, textAlign: 'center', fontSize: tall ? 8 : mid ? 6 : 7, lineHeight: '8px', color: '#999', fontFamily: 'Liberation Sans' }}>{tall || mid ? '|' : '.'}</span>);
  }
  seqs.forEach((s, r) => {
    for (let i = 0; i < s.length; i++) {
      const ch = s[i];
      nodes.push(<span key={'s' + r + '-' + i} style={{ position: 'absolute', left: colLeft(i), width: cw, top: 20 + r * 9, textAlign: 'center', fontSize: 8.3, lineHeight: '9px', fontWeight: 700, color: AA_COLORS[ch] || '#666', fontFamily: 'Liberation Serif', transform: squeeze < 1 ? `scaleX(${squeeze})` : undefined }}>{ch}</span>);
    }
  });
  return (
    <div style={{ position: 'absolute', left: box.left, top: BOX_TOP, width: w, height: BOX_BOTTOM - BOX_TOP, border: '1.5px solid #333', boxSizing: 'border-box', background: '#fff', boxShadow: '1px 1px 1px rgba(0,0,0,0.25)' }}>
      {nodes}
    </div>
  );
}

export default function App() {
  const canvasRefs = useRef<Record<string, HTMLCanvasElement | null>>({});
  const [ovl, setOvl] = useState<any>(null);

  useEffect(() => {
    const charts: Chart[] = [];
    const firstRow: Record<string, Chart> = {};
    PANELS.forEach((p) => {
      const ax = canvasRefs.current[p.id + '-axis'];
      if (ax) charts.push(new Chart(ax, axisConfig(p)));
      p.rows.forEach((pts, i) => {
        const cv = canvasRefs.current[p.id + '-' + i];
        if (!cv) return;
        const c = new Chart(cv, rowConfig(p, pts));
        charts.push(c);
        if (i === 0) firstRow[p.id] = c;
      });
    });
    const toPx = (id: string, regions: Pt[]) => {
      const p = PANELS.find((q) => q.id === id)!;
      const c: any = firstRow[id];
      const x0 = p.plotLeft - YW;
      return regions.map(([a, b]) => [x0 + c.scales.x.getPixelForValue(a), x0 + c.scales.x.getPixelForValue(b)]);
    };
    setOvl({
      AL: toPx('AL', LEFT_A_REGIONS), AR: toPx('AR', RIGHT_A_REGIONS),
      BL: toPx('BL', LEFT_B_REGIONS), BR: toPx('BR', RIGHT_B_REGIONS),
    });
    return () => charts.forEach((c) => c.destroy());
  }, []);

  const canvases: any[] = [];
  const labels: any[] = [];
  PANELS.forEach((p) => {
    const pw = p.plotRight - p.plotLeft;
    canvases.push(
      <canvas key={p.id + '-axis'} ref={(el) => { canvasRefs.current[p.id + '-axis'] = el; }}
        width={pw + 2 * AX_PAD} height={20}
        style={{ position: 'absolute', left: p.plotLeft - AX_PAD, top: p.axisY - 4, width: pw + 2 * AX_PAD, height: 20 }} />
    );
    p.rows.forEach((_, i) => {
      const zero = p.zero0 + i * p.step;
      const h = 2 * p.half + 2 * PAD;
      canvases.push(
        <canvas key={p.id + '-' + i} ref={(el) => { canvasRefs.current[p.id + '-' + i] = el; }}
          width={YW + pw} height={h}
          style={{ position: 'absolute', left: p.plotLeft - YW, top: zero - p.half - PAD, width: YW + pw, height: h }} />
      );
      if (p.id === 'AL' || p.id === 'BL') {
        labels.push(
          <div key={p.id + 'lab' + i} style={{ position: 'absolute', left: 0, width: 106, top: zero - 9, textAlign: 'right', fontFamily: 'Liberation Serif', fontSize: 13, lineHeight: '16px', color: '#1a1a1a' }}>{STRAINS[i]}</div>
        );
      }
    });
  });

  const svgEls: any[] = [];
  if (ovl) {
    const dash = { stroke: '#4a4a4a', strokeWidth: 1, strokeDasharray: '2 1.5', fill: 'none' };
    const solid = { stroke: '#222', strokeWidth: 1.6 };
    const groups = [
      { a: ovl.AL, b: ovl.BL, boxes: [0, 1], aTop: 5, aBottom: 379, bTop: 538 },
      { a: ovl.AR, b: ovl.BR, boxes: [2, 3, 4], aTop: 5, aBottom: 382, bTop: 539 },
    ];
    const bBottom = 909;
    groups.forEach((g, gi) => {
      g.a.forEach(([x1, x2]: number[], k: number) => {
        const box = BOXES[g.boxes[k]];
        const key = gi + '-' + k;
        svgEls.push(<line key={'at' + key} x1={x1} y1={g.aTop} x2={x2} y2={g.aTop} {...dash} />);
        svgEls.push(<line key={'al' + key} x1={x1} y1={g.aTop} x2={x1} y2={g.aBottom} {...dash} />);
        svgEls.push(<line key={'ar' + key} x1={x2} y1={g.aTop} x2={x2} y2={g.aBottom} {...dash} />);
        svgEls.push(<line key={'ab' + key} x1={x1} y1={g.aBottom} x2={x2} y2={g.aBottom} {...solid} />);
        svgEls.push(<line key={'fl' + key} x1={x1} y1={g.aBottom} x2={box.left} y2={BOX_TOP} {...dash} />);
        svgEls.push(<line key={'fr' + key} x1={x2} y1={g.aBottom} x2={box.right} y2={BOX_TOP} {...dash} />);
        const [b1, b2] = g.b[k];
        svgEls.push(<line key={'gl' + key} x1={box.left} y1={BOX_BOTTOM} x2={b1} y2={g.bTop} {...dash} />);
        svgEls.push(<line key={'gr' + key} x1={box.right} y1={BOX_BOTTOM} x2={b2} y2={g.bTop} {...dash} />);
        svgEls.push(<line key={'bt' + key} x1={b1} y1={g.bTop} x2={b2} y2={g.bTop} {...solid} />);
        svgEls.push(<line key={'bl' + key} x1={b1} y1={g.bTop} x2={b1} y2={bBottom} {...dash} />);
        svgEls.push(<line key={'br' + key} x1={b2} y1={g.bTop} x2={b2} y2={bBottom} {...dash} />);
        svgEls.push(<line key={'bb' + key} x1={b1} y1={bBottom} x2={b2} y2={bBottom} {...dash} />);
      });
    });
  }

  return (
    <div style={{ position: 'absolute', left: 0, top: 0, width: 1376, height: 911, overflow: 'hidden', background: '#fff' }}>
      <div style={{ position: 'absolute', left: 7, top: -2, fontFamily: 'Liberation Serif', fontWeight: 700, fontSize: 32, lineHeight: '34px', color: '#111' }}>A</div>
      <div style={{ position: 'absolute', left: 7, top: 533, fontFamily: 'Liberation Serif', fontWeight: 700, fontSize: 32, lineHeight: '34px', color: '#111' }}>B</div>
      {labels}
      {canvases}
      {STRAINS.map((s, i) => (
        <div key={'al' + i} style={{ position: 'absolute', left: 6, top: 437 + i * 10.2, fontFamily: 'Liberation Serif', fontSize: 7, lineHeight: '8px', color: '#222' }}>{s}</div>
      ))}
      <svg width={1376} height={911} style={{ position: 'absolute', left: 0, top: 0, pointerEvents: 'none' }}>
        {svgEls}
      </svg>
      {BOXES.map((_, i) => <AlignBox key={'box' + i} idx={i} />)}
    </div>
  );
}
